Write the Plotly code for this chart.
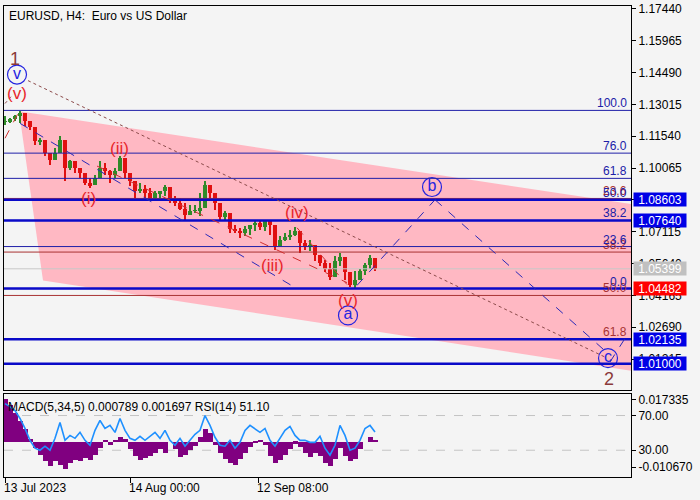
import plotly.graph_objects as go

# ---------------- data ----------------
closes = [1.1223, 1.1232, 1.1246, 1.1260, 1.1223, 1.1195, 1.1131, 1.1136, 1.1076, 1.1043,
          1.1076, 1.1136, 1.1006, 1.1039, 1.1006, 1.0983, 1.0937, 1.0928, 1.0960, 1.1006,
          1.0993, 1.0974, 1.0993, 1.1053, 1.0983, 1.0947, 1.0900, 1.0910, 1.0891, 1.0868,
          1.0891, 1.0900, 1.0919, 1.0859, 1.0845, 1.0818, 1.0790, 1.0808, 1.0808, 1.0822,
          1.0928, 1.0891, 1.0845, 1.0781, 1.0799, 1.0725, 1.0716, 1.0707, 1.0725, 1.0744,
          1.0753, 1.0735, 1.0762, 1.0744, 1.0647, 1.0675, 1.0688, 1.0698, 1.0716, 1.0661,
          1.0642, 1.0652, 1.0605, 1.0569, 1.0541, 1.0504, 1.0578, 1.0596, 1.0523, 1.0467,
          1.0486, 1.0532, 1.0559, 1.0592, 1.0540]

highs = [1.1246, 1.1237, 1.1251, 1.1269, 1.1237, 1.1223, 1.1154, 1.1145, 1.1108, 1.1076,
         1.1099, 1.1154, 1.1030, 1.1043, 1.1020, 1.1006, 1.0974, 1.0960, 1.0974, 1.1039,
         1.1030, 1.0997, 1.1006, 1.1062, 1.1020, 1.0960, 1.0937, 1.0937, 1.0928, 1.0914,
         1.0900, 1.0900, 1.0928, 1.0900, 1.0877, 1.0868, 1.0845, 1.0836, 1.0836, 1.0891,
         1.0947, 1.0924, 1.0882, 1.0813, 1.0808, 1.0776, 1.0744, 1.0730, 1.0739, 1.0744,
         1.0762, 1.0762, 1.0762, 1.0753, 1.0693, 1.0693, 1.0707, 1.0721, 1.0735, 1.0693,
         1.0675, 1.0675, 1.0629, 1.0606, 1.0583, 1.0569, 1.0601, 1.0615, 1.0569, 1.0509,
         1.0532, 1.0537, 1.0569, 1.0606, 1.0569]

lows = [1.1205, 1.1214, 1.1223, 1.1214, 1.1200, 1.1182, 1.1112, 1.1112, 1.1062, 1.1020,
        1.1053, 1.1076, 1.0947, 1.0997, 1.0983, 1.0960, 1.0928, 1.0914, 1.0928, 1.0983,
        1.0974, 1.0937, 1.0960, 1.0993, 1.0960, 1.0924, 1.0868, 1.0891, 1.0868, 1.0859,
        1.0859, 1.0868, 1.0877, 1.0845, 1.0831, 1.0813, 1.0767, 1.0790, 1.0799, 1.0785,
        1.0859, 1.0868, 1.0813, 1.0767, 1.0767, 1.0707, 1.0707, 1.0684, 1.0693, 1.0698,
        1.0716, 1.0721, 1.0716, 1.0698, 1.0629, 1.0647, 1.0670, 1.0675, 1.0693, 1.0615,
        1.0629, 1.0624, 1.0578, 1.0555, 1.0523, 1.0490, 1.0537, 1.0555, 1.0490, 1.0454,
        1.0448, 1.0490, 1.0509, 1.0537, 1.0532]

macd_hist = [0.0177, 0.0152, 0.0119, 0.0087, 0.0054, 0.0012, -0.0025, -0.0054, -0.0082, -0.0099,
             -0.0082, -0.0095, -0.0115, -0.0087, -0.0074, -0.0082, -0.0066, -0.0078, -0.0054, -0.0025,
             0.0004, -0.0012, 0.0004, 0.0021, 0.0012, -0.0029, -0.0058, -0.0074, -0.0066, -0.0058,
             -0.0045, -0.0029, -0.0045, 0.0000, -0.0029, -0.0062, -0.0054, -0.0033, -0.0016, 0.0021,
             0.0054, 0.0037, -0.0012, -0.0045, -0.0070, -0.0087, -0.0095, -0.0070, -0.0045, -0.0021,
             -0.0004, 0.0008, -0.0012, -0.0058, -0.0087, -0.0078, -0.0054, -0.0029, -0.0008, -0.0021,
             -0.0045, -0.0062, -0.0045, -0.0058, -0.0087, -0.0103, -0.0070, -0.0025, -0.0058, -0.0082,
             -0.0070, -0.0029, 0.0000, 0.0021, 0.0008]

rsi = [83.7, 80.3, 75.7, 66.6, 55.1, 41.4, 32.3, 30.0, 34.6, 30.0,
       43.7, 62.0, 41.4, 47.1, 43.7, 50.6, 41.4, 35.7, 52.9, 64.3,
       55.1, 58.6, 50.6, 66.6, 52.9, 43.7, 41.4, 46.0, 41.4, 46.0,
       50.6, 43.7, 52.9, 41.4, 35.7, 43.7, 34.6, 41.4, 48.3, 52.9,
       70.0, 58.6, 44.9, 35.7, 34.6, 41.4, 32.3, 39.1, 52.9, 58.6,
       55.1, 50.6, 55.1, 41.4, 34.6, 43.7, 52.9, 57.4, 47.1, 41.4,
       41.4, 39.1, 39.1, 46.0, 32.3, 24.3, 35.7, 58.6, 47.1, 30.0,
       32.3, 41.4, 55.1, 58.6, 51.1]

price_ticks = [1.17440, 1.15965, 1.14490, 1.13015, 1.11540, 1.10065,
               1.08590, 1.07115, 1.05640, 1.04165, 1.02690, 1.01215]

time_tick_bars = [0, 125, 253]
time_tick_labels = ["13 Jul 2023", "14 Aug 00:00", "12 Sep 08:00"]

blue_fib_levels = [1.1274, 1.1076, 1.0959, 1.0861, 1.0764, 1.0643, 1.04482]
blue_fib_labels = ["100.0", "76.0", "61.8", "50.0", "38.2", "23.6", "0.0"]
red_fib_levels = [1.0866, 1.06175, 1.04165, 1.02156]
red_fib_labels = ["23.6", "38.2", "50.0", "61.8"]

thick_levels = [1.08603, 1.07640, 1.04482, 1.02135, 1.01000]
current_price = 1.05399

box_prices = [1.08603, 1.07640, 1.05399, 1.04482, 1.02135, 1.01000]
box_colors = ["#0000e6", "#0000e6", "#c0c0c0", "#ff0000", "#0000e6", "#0000e6"]

# channel polygon anchors (bar, price)
channel_bars = [14, 626, 626, 38]
channel_prices = [1.1270, 1.0840, 1.0068, 1.0486]

# trend lines: (bar0, price0, bar1, price1, kind)
trend_lines = [
    (23, 1.1412, 600, 1.0131, "brown"),
    (15, 1.1214, 290, 1.0453, "blue"),
    (92, 1.1016, 342, 1.0476, "red"),
    (292, 1.0730, 342, 1.0467, "red"),
    (0, 1.1145, 14, 1.1269, "red"),
    (0, 1.1306, 8, 1.1348, "brown"),
    (352, 1.0463, 430, 1.0860, "blue"),
    (430, 1.0860, 600, 1.0160, "blue"),
    (605, 1.0108, 622, 1.0232, "blue"),
]

wave_texts = ["1", "(v)", "(i)", "(ii)", "(iii)", "(iv)", "(v)", "2"]
wave_bars = [10, 12, 83, 114, 267, 292, 343, 604]
wave_prices = [1.1513, 1.1352, 1.0868, 1.1099, 1.0555, 1.0799, 1.0393, 1.0029]
wave_kinds = ["brown", "red", "red", "red", "red", "red", "red", "brown"]

circle_texts = ["v", "a", "b", "c"]
circle_bars = [12, 343, 427, 603]
circle_prices = [1.1440, 1.0324, 1.0919, 1.0126]

bar_step = 5

# ---------------- styles ----------------
FONT = "Liberation Sans, Arial, sans-serif"
BG = "#f4f4f4"
BLUE_THIN = "#2020a8"
BLUE_THICK = "#0a0ac8"
RED_THIN = "#a83232"
WAVE_RED = "#e8262b"
BROWN = "#8b3a3a"
CIRCLE_BLUE = "#2424e0"
UP = "#2f8a2a"
DOWN = "#e01010"
kind_color = {"brown": "#8b4a4a", "blue": "#2a2ab8", "red": "#d03030"}
kind_dash = {"brown": "dot", "blue": "dash", "red": "dash"}

xs = [i * bar_step for i in range(len(closes))]
opens = [closes[0]] + closes[:-1]
hi = [max(h, o, c) for h, o, c in zip(highs, opens, closes)]
lo = [min(l, o, c) for l, o, c in zip(lows, opens, closes)]
body_base = [min(o, c) for o, c in zip(opens, closes)]
body_h = [max(abs(c - o), 0.00015) for o, c in zip(opens, closes)]
body_col = [UP if c >= o else DOWN for o, c in zip(opens, closes)]

fig = go.Figure()

# wicks
fig.add_trace(go.Bar(x=xs, y=[h - l for h, l in zip(hi, lo)], base=lo, width=1.0,
                     marker=dict(color=body_col, line=dict(width=0)),
                     xaxis="x", yaxis="y", hoverinfo="skip"))
# bodies
fig.add_trace(go.Bar(x=xs, y=body_h, base=body_base, width=3.4,
                     marker=dict(color=body_col, line=dict(width=0)),
                     xaxis="x", yaxis="y", hoverinfo="skip"))

fig.add_trace(go.Bar(x=xs[:len(macd_hist)], y=macd_hist, width=bar_step,
                     marker=dict(color="#800080", line=dict(width=0)),
                     xaxis="x2", yaxis="y2", hoverinfo="skip"))

fig.add_trace(go.Scatter(x=xs[:len(rsi)], y=rsi, mode="lines",
                         line=dict(color="#1e90ff", width=1.6),
                         xaxis="x2", yaxis="y3", hoverinfo="skip"))

# circled wave labels
fig.add_trace(go.Scatter(x=circle_bars, y=circle_prices, mode="markers+text",
                         text=circle_texts, textposition="middle center",
                         textfont=dict(family=FONT, size=16, color=CIRCLE_BLUE),
                         marker=dict(symbol="circle-open", size=19,
                                     line=dict(color=CIRCLE_BLUE, width=1.2),
                                     color=CIRCLE_BLUE),
                         xaxis="x", yaxis="y", hoverinfo="skip"))

shapes = []
path = "M " + " L ".join(f"{b},{p}" for b, p in zip(channel_bars, channel_prices)) + " Z"
shapes.append(dict(type="path", path=path, xref="x", yref="y",
                   fillcolor="#ffb8c3", line=dict(width=0), layer="below"))

X0, X1 = -1, 626
for lv in blue_fib_levels:
    shapes.append(dict(type="line", xref="x", x0=X0, x1=X1, yref="y", y0=lv, y1=lv,
                       line=dict(color=BLUE_THIN, width=1), layer="above"))
for lv in red_fib_levels:
    shapes.append(dict(type="line", xref="x", x0=X0, x1=X1, yref="y", y0=lv, y1=lv,
                       line=dict(color=RED_THIN, width=1), layer="above"))
shapes.append(dict(type="line", xref="x", x0=X0, x1=X1, yref="y",
                   y0=current_price, y1=current_price,
                   line=dict(color="#c8c8c8", width=1), layer="above"))
for lv in thick_levels:
    shapes.append(dict(type="line", xref="x", x0=X0, x1=X1, yref="y", y0=lv, y1=lv,
                       line=dict(color=BLUE_THICK, width=2.5), layer="above"))

for b0, p0, b1, p1, k in trend_lines:
    shapes.append(dict(type="line", xref="x", yref="y", x0=b0, y0=p0, x1=b1, y1=p1,
                       line=dict(color=kind_color[k], width=1, dash=kind_dash[k])))

for lv in (70, 30):
    shapes.append(dict(type="line", xref="x2", x0=X0, x1=X1, yref="y3", y0=lv, y1=lv,
                       line=dict(color="#c4c4c4", width=1, dash="dash"), layer="below"))

ann = []
ann.append(dict(text="EURUSD, H4:  Euro vs US Dollar", xref="paper", yref="paper",
                x=0, y=(477 - 12) / 475, xanchor="left", yanchor="middle", xshift=3,
                showarrow=False, font=dict(family=FONT, size=12, color="black")))
ann.append(dict(text="MACD(5,34,5) 0.000789 0.001697 RSI(14) 51.10", xref="paper", yref="paper",
                x=0, y=(477 - 406) / 475, xanchor="left", yanchor="middle", xshift=2,
                showarrow=False, font=dict(family=FONT, size=12, color="black")))

for t, b, p, k in zip(wave_texts, wave_bars, wave_prices, wave_kinds):
    col = BROWN if k == "brown" else WAVE_RED
    ann.append(dict(text=t, xref="x", yref="y", x=b, y=p, showarrow=False,
                    font=dict(family=FONT, size=18 if k == "brown" else 17, color=col)))

for lv, lab in zip(red_fib_levels, red_fib_labels):
    ann.append(dict(text=lab, xref="paper", yref="y", x=1, y=lv, xanchor="right",
                    yanchor="bottom", xshift=-2, yshift=-2, showarrow=False,
                    font=dict(family=FONT, size=12, color=RED_THIN)))
for lv, lab in zip(blue_fib_levels, blue_fib_labels):
    ann.append(dict(text=lab, xref="paper", yref="y", x=1, y=lv, xanchor="right",
                    yanchor="bottom", xshift=-2, yshift=-2, showarrow=False,
                    font=dict(family=FONT, size=12, color=BLUE_THIN)))

for pr, col in zip(box_prices, box_colors):
    ann.append(dict(text=f"{pr:.5f}", xref="paper", yref="y", x=1, y=pr,
                    xanchor="left", yanchor="middle", xshift=2, showarrow=False,
                    bgcolor=col, width=52, height=13, borderpad=0,
                    font=dict(family=FONT, size=12, color="white")))

for b, lab in zip(time_tick_bars, time_tick_labels):
    ann.append(dict(text=lab, xref="x2", yref="paper", x=b, y=0, xanchor="left",
                    yanchor="top", xshift=-3, yshift=-2, showarrow=False,
                    font=dict(family=FONT, size=12, color="black")))

axis_font = dict(family=FONT, size=12, color="black")
fig.update_layout(
    width=700, height=500,
    margin=dict(l=4, r=69, t=2, b=23),
    paper_bgcolor=BG, plot_bgcolor=BG,
    showlegend=False, bargap=0, barmode="overlay",
    shapes=shapes, annotations=ann,
    xaxis=dict(domain=[0, 1], anchor="y", range=[-1, 626], showticklabels=False,
               showgrid=False, zeroline=False, showline=True, mirror=True,
               linecolor="black", linewidth=1, ticks=""),
    yaxis=dict(domain=[(477 - 389) / 475, 1], anchor="x", range=[0.99795, 1.17578],
               side="right", tickvals=price_ticks,
               ticktext=[f"{v:.5f}" for v in price_ticks],
               ticks="outside", ticklen=4, tickcolor="black", tickfont=axis_font,
               ticklabeloverflow="allow",
               showgrid=False, zeroline=False, showline=True, mirror=True,
               linecolor="black", linewidth=1),
    xaxis2=dict(domain=[0, 1], anchor="y2", range=[-1, 626], tickvals=time_tick_bars,
                showticklabels=False, ticks="outside", ticklen=5, tickcolor="black",
                showgrid=False, zeroline=False, showline=True, mirror=True,
                linecolor="black", linewidth=1),
    yaxis2=dict(domain=[0, (477 - 393) / 475], anchor="x2", range=[-0.014788, 0.019806],
                side="right", tickvals=[0.017335, -0.010670],
                ticktext=["0.017335", "-0.010670"],
                ticks="outside", ticklen=4, tickcolor="black", tickfont=axis_font,
                ticklabeloverflow="allow",
                showgrid=False, zeroline=False, showline=True, mirror=True,
                linecolor="black", linewidth=1),
    yaxis3=dict(overlaying="y2", anchor="x2", side="right", range=[-0.857, 95.14],
                tickvals=[70, 30], ticktext=["70.00", "30.00"],
                ticks="outside", ticklen=4, tickcolor="black", tickfont=axis_font,
                showgrid=False, zeroline=False, showline=False),
)

fig.write_html("out.html", config={"displayModeBar": False},
               post_script="document.body.style.margin='0';document.body.style.background='#f4f4f4';")
